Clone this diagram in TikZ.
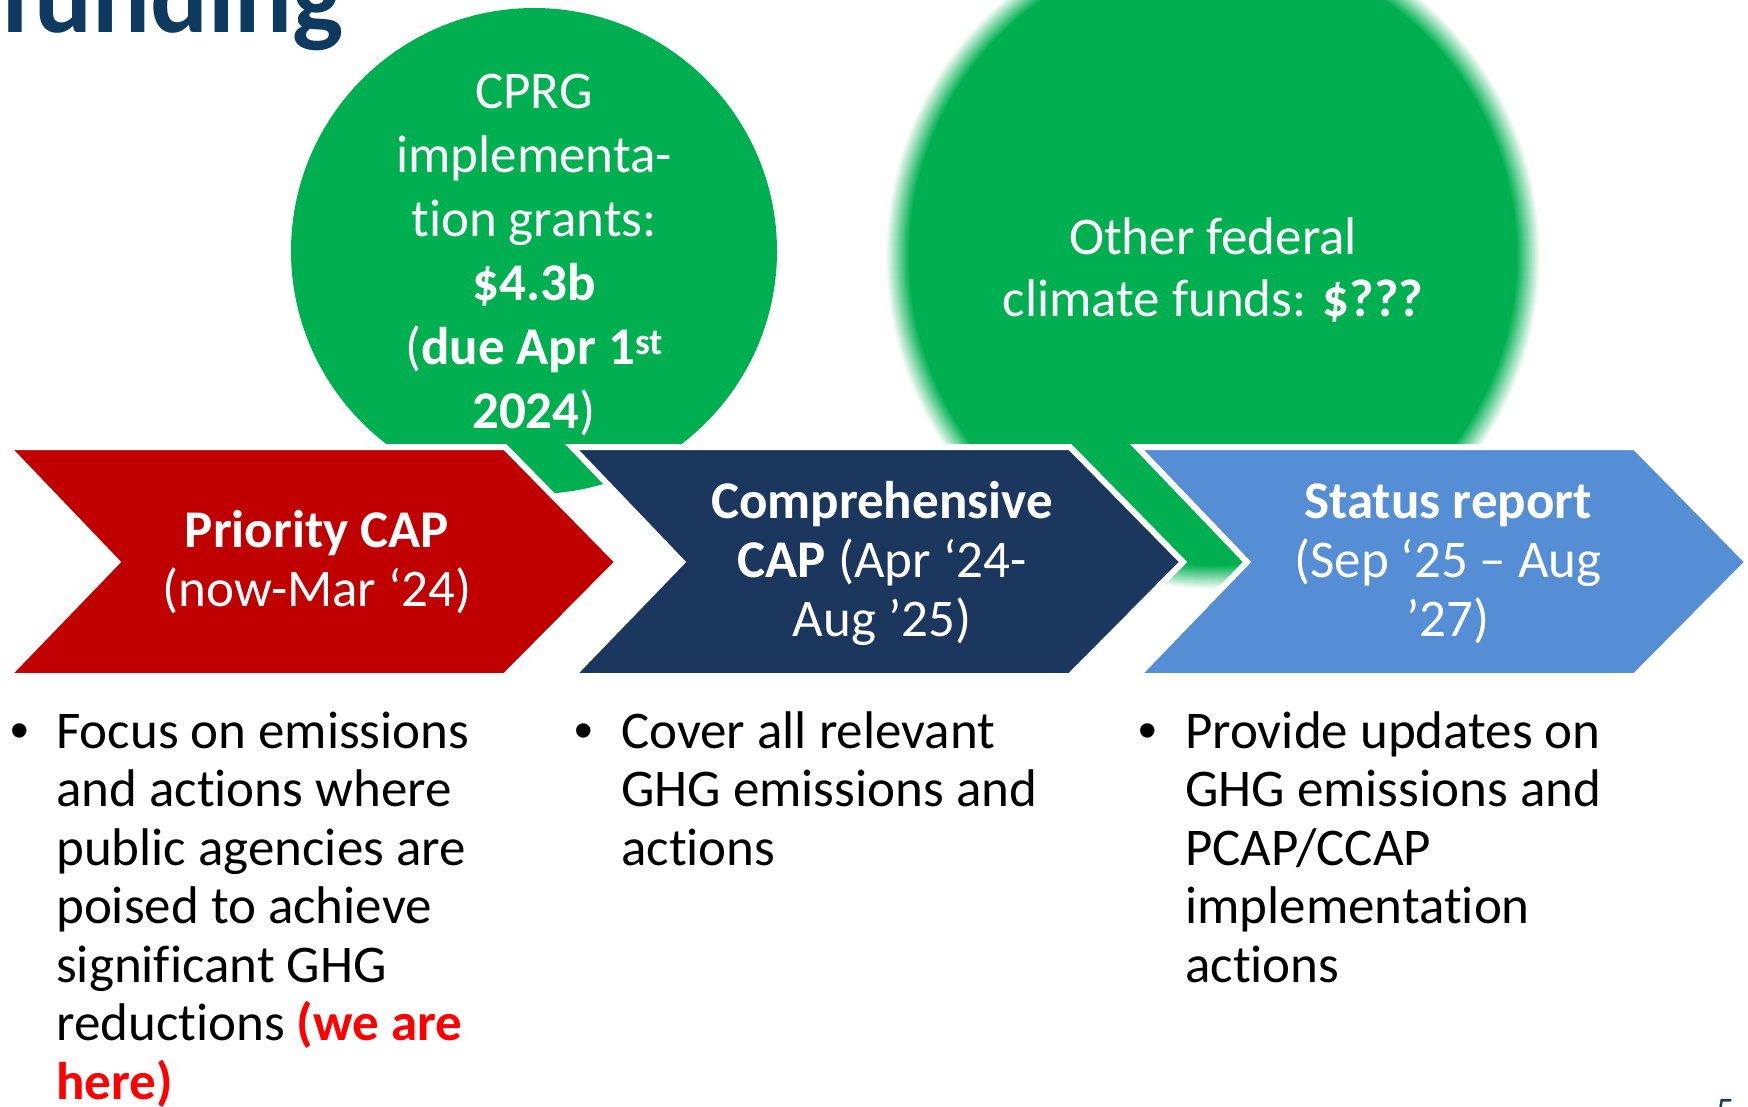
\documentclass[tikz,border=0pt]{standalone}
\usepackage{fontspec}
\setmainfont{Carlito}[Ligatures={NoCommon,NoRequired,NoContextual},Contextuals={NoAlternate}]
\newfontfamily\bulletfont{Liberation Sans}
\newcommand\tbrk{\kern0pt }
\definecolor{chevred}{HTML}{C00000}
\definecolor{chevnavy}{HTML}{1B375E}
\definecolor{chevblue}{HTML}{558ED5}
\definecolor{bubgreen}{HTML}{00B050}
\definecolor{titlenavy}{HTML}{0D3A5E}
\definecolor{heretxt}{HTML}{FF0000}
\begin{document}
\begin{tikzpicture}[x=1pt,y=-1pt,
  chev/.style={draw=white, line width=6pt, line join=miter},
  bubtxt/.style={text=white, inner sep=0pt, anchor=base, font=\fontsize{53}{64}\selectfont},
  bubtxtb/.style={text=white, inner sep=0pt, anchor=base, font=\fontsize{53}{62.5}\selectfont},
  chevtxt/.style={text=white, inner sep=0pt, anchor=base, font=\fontsize{53}{59}\selectfont},
  bodytxt/.style={text=black, inner sep=0pt, anchor=base west, font=\fontsize{53}{58.5}\selectfont},
  bul/.style={text=black, inner sep=0pt, anchor=base, font=\bulletfont\fontsize{53}{58.5}\selectfont}
]
\useasboundingbox (0,0) rectangle (1748,1106);
\clip (0,0) rectangle (1748,1106);
\fill[white] (0,0) rectangle (1748,1106);

% title (cut off at the top)
\node[anchor=base west, inner sep=0pt, text=titlenavy, font=\fontsize{108}{108}\selectfont\bfseries] (title) at (0,32) {funding};

% bubble 1
\fill[bubgreen] (534,251) circle (243);
% bubble 2 with soft edge
\foreach \i in {0,...,24} {
  \pgfmathsetmacro{\rr}{12-\i}
  \pgfmathtruncatemacro{\pp}{100*\i/24}
  \fill[bubgreen!\pp!white] (1213,256) ellipse ({316+\rr} and {322+\rr});
}

% chevrons
\filldraw[chev, fill=chevred]  (7,447) -- (505,447) -- (618,562) -- (505,676) -- (7,676) -- (117,562) -- cycle;
\filldraw[chev, fill=chevnavy] (572,447) -- (1070,447) -- (1183,562) -- (1070,676) -- (572,676) -- (682,562) -- cycle;
\filldraw[chev, fill=chevblue] (1137,447) -- (1635,447) -- (1748,562) -- (1635,676) -- (1137,676) -- (1247,562) -- cycle;

% bubble texts
\node[bubtxt] (b1) at (534,108) {\begin{tabular}[t]{@{}c@{}}CPRG\\ implementa-\\ t\tbrk ion grants:\\ \textbf{\$4.3b}\\ (\textbf{due Apr 1\textsuperscript{st}}\\ \textbf{2024})\end{tabular}};
\node[bubtxtb] (b2) at (1213,254) {\begin{tabular}[t]{@{}c@{}}Other federal\\ climate funds: \textbf{\$???}\end{tabular}};

% chevron texts
\node[chevtxt] (t1) at (317,547) {\begin{tabular}[t]{@{}c@{}}\textbf{Priority CAP}\\ (now-Mar ‘24)\end{tabular}};
\node[chevtxt] (t2) at (882,518) {\begin{tabular}[t]{@{}c@{}}\textbf{Comprehensive}\\ \textbf{CAP} (Apr ‘24-\\ Aug ’25)\end{tabular}};
\node[chevtxt] (t3) at (1448,518) {\begin{tabular}[t]{@{}c@{}}\textbf{Status report}\\ (Sep ‘25 – Aug\\ ’27)\end{tabular}};

% bullets
\node[bul] (d1) at (20,748) {•};
\node[bul] (d2) at (584,748) {•};
\node[bul] (d3) at (1148,748) {•};

% bullet texts
\node[bodytxt] (p1) at (56,748) {\begin{tabular}[t]{@{}l@{}}Focus on emissions\\ and act\tbrk ions where\\ public agencies are\\ poised to achieve\\ signif\tbrk icant GHG\\ reductions {\color{heretxt}\textbf{(we are}}\\ {\color{heretxt}\textbf{here)}}\end{tabular}};
\node[bodytxt] (p2) at (621,748) {\begin{tabular}[t]{@{}l@{}}Cover all relevant\\ GHG emissions and\\ act\tbrk ions\end{tabular}};
\node[bodytxt] (p3) at (1185,748) {\begin{tabular}[t]{@{}l@{}}Provide updates on\\ GHG emissions and\\ PCAP/CCAP\\ implementat\tbrk ion\\ act\tbrk ions\end{tabular}};

% page number (cut off at the bottom)
\node[anchor=base west, inner sep=0pt, text=titlenavy, font=\fontsize{36}{36}\selectfont] (pnum) at (1716,1122) {5};
\end{tikzpicture}
\end{document}
